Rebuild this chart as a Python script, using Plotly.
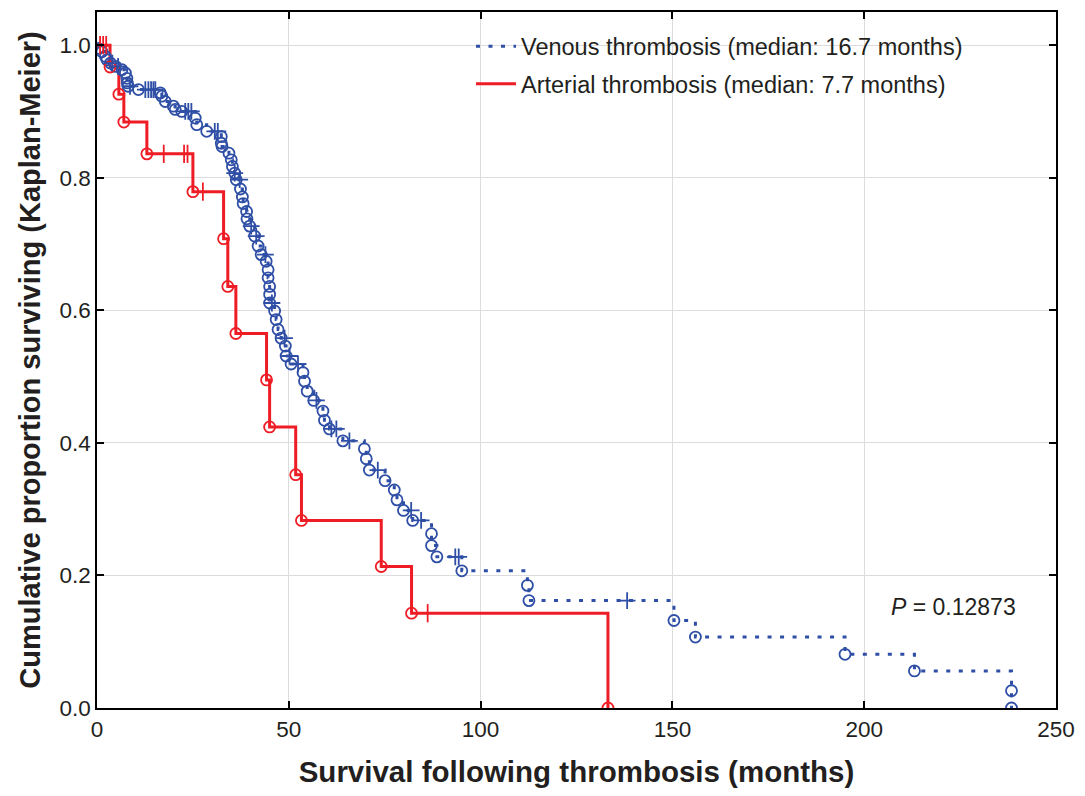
import plotly.graph_objects as go

# ---------------- data ----------------
venous_event_times = [0.3, 1.3, 2.2, 2.6, 3.5, 4.8, 6.5, 7.4, 7.8, 7.9,
                      8.1, 10.8, 16.5, 16.9, 17.8, 19.9, 20.4, 22.1, 25.6, 26.0,
                      28.6, 32.4, 32.4, 32.6, 34.4, 35.0, 35.3, 35.9, 36.3, 37.4,
                      37.9, 38.1, 39.0, 39.1, 39.8, 41.1, 42.0, 42.8, 44.1, 44.6,
                      44.6, 45.0, 45.0, 45.0, 46.3, 46.7, 47.2, 48.0, 49.1, 49.3,
                      50.6, 53.7, 54.1, 54.8, 56.5, 58.9, 59.3, 60.6, 64.1, 69.7,
                      70.2, 71.0, 75.1, 77.5, 78.2, 79.9, 82.3, 87.2, 87.2, 88.6,
                      95.1, 112.2, 112.6, 150.4, 156.0, 195.0, 213.1, 238.4, 238.4]
venous_event_surv = [0.995, 0.990, 0.983, 0.978, 0.973, 0.968, 0.963, 0.958, 0.950, 0.943,
                     0.938, 0.933, 0.928, 0.923, 0.915, 0.908, 0.903, 0.900, 0.890, 0.880,
                     0.870, 0.862, 0.852, 0.847, 0.837, 0.827, 0.817, 0.807, 0.797, 0.783,
                     0.771, 0.761, 0.749, 0.738, 0.727, 0.712, 0.697, 0.684, 0.674, 0.661,
                     0.649, 0.636, 0.624, 0.611, 0.599, 0.586, 0.571, 0.558, 0.546, 0.531,
                     0.519, 0.506, 0.493, 0.478, 0.464, 0.448, 0.434, 0.421, 0.403, 0.391,
                     0.376, 0.359, 0.343, 0.329, 0.314, 0.298, 0.283, 0.263, 0.245, 0.228,
                     0.207, 0.185, 0.162, 0.132, 0.107, 0.081, 0.056, 0.026, 0.0]
venous_censor_times = [4.0, 5.5, 8.6, 12.6, 13.4, 14.1, 14.7, 15.2, 23.0, 23.8,
                       24.6, 30.7, 31.5, 35.9, 37.2, 40.2, 41.5, 43.9, 45.6, 48.9,
                       50.2, 52.4, 57.2, 61.1, 62.4, 65.8, 73.2, 81.9, 84.5, 93.4,
                       94.3, 138.2]

arterial_event_times = [3.4, 5.7, 7.0, 13.0, 25.0, 33.0, 34.1, 36.2, 44.2, 45.0,
                        51.8, 53.3, 74.1, 82.0, 133.2]
arterial_event_surv = [0.967, 0.926, 0.884, 0.836, 0.779, 0.708, 0.636, 0.565, 0.495, 0.424,
                       0.352, 0.283, 0.2135, 0.143, 0.0]
arterial_censor_times = [0.8, 1.6, 2.4, 17.4, 22.7, 23.6, 27.6, 86.2]

venous_name = "Venous thrombosis (median: 16.7 months)"
arterial_name = "Arterial thrombosis (median: 7.7 months)"
p_text = "<i>P</i> = 0.12873"

x_ticks = [0, 50, 100, 150, 200, 250]
y_ticks = [0.0, 0.2, 0.4, 0.6, 0.8, 1.0]

BLUE = "#2F4FA6"
RED = "#EE1C25"
TXT = "#231F20"
FONT = "Liberation Sans, Arial"


def surv_at(times, surv, t):
    s = 1.0
    for ti, si in zip(times, surv):
        if ti <= t:
            s = si
    return s


fig = go.Figure()

# step lines
vx = [0] + venous_event_times
vy = [1.0] + venous_event_surv
fig.add_trace(go.Scatter(x=vx, y=vy, mode="lines", line_shape="hv",
                         line=dict(color=BLUE, width=3, dash="4px,8.5px"),
                         name=venous_name, legendgroup="v"))
ax = [0] + arterial_event_times
ay = [1.0] + arterial_event_surv
fig.add_trace(go.Scatter(x=ax, y=ay, mode="lines", line_shape="hv",
                         line=dict(color=RED, width=3), name=arterial_name,
                         legendgroup="a"))

# event markers (circles)
fig.add_trace(go.Scatter(x=venous_event_times, y=venous_event_surv, mode="markers",
                         marker=dict(symbol="circle-open", size=11, color=BLUE,
                                     line=dict(width=1.8, color=BLUE)),
                         showlegend=False, hoverinfo="skip"))
fig.add_trace(go.Scatter(x=arterial_event_times, y=arterial_event_surv, mode="markers",
                         marker=dict(symbol="circle-open", size=11, color=RED,
                                     line=dict(width=1.8, color=RED)),
                         showlegend=False, hoverinfo="skip"))

# censor markers
vcy = [surv_at(venous_event_times, venous_event_surv, t) for t in venous_censor_times]
fig.add_trace(go.Scatter(x=venous_censor_times, y=vcy, mode="markers",
                         marker=dict(symbol="cross-thin", size=12, color=BLUE,
                                     line=dict(width=1.8, color=BLUE)),
                         showlegend=False, hoverinfo="skip"))
acy = [surv_at(arterial_event_times, arterial_event_surv, t) for t in arterial_censor_times]
fig.add_trace(go.Scatter(x=arterial_censor_times, y=acy, mode="markers",
                         marker=dict(symbol="line-ns", size=13, color=RED,
                                     line=dict(width=1.8, color=RED)),
                         showlegend=False, hoverinfo="skip"))

fig.add_annotation(x=240, y=0.153, xref="x", yref="y", text=p_text, showarrow=False,
                   xanchor="right", yanchor="middle",
                   font=dict(family=FONT, size=23, color=TXT))

axis_common = dict(showline=True, linecolor="black", linewidth=1.5, mirror="ticks",
                   ticks="inside", ticklen=7, tickwidth=1.5, tickcolor="black",
                   showgrid=True, gridcolor="#DCDCDC", gridwidth=1.2, zeroline=False,
                   tickfont=dict(family=FONT, size=22.5, color=TXT))

fig.update_xaxes(range=[0, 250], tickvals=x_ticks, **axis_common,
                 title=dict(text="<b>Survival following thrombosis (months)</b>",
                            font=dict(family=FONT, size=29.5, color=TXT),
                            standoff=22))
fig.update_yaxes(range=[0, 1.05], tickvals=y_ticks, tickformat=".1f", **axis_common,
                 title=dict(text="<b>Cumulative proportion surviving (Kaplan-Meier)</b>",
                            font=dict(family=FONT, size=29, color=TXT),
                            standoff=10))

fig.update_layout(width=1069, height=780, plot_bgcolor="white", paper_bgcolor="white",
                  margin=dict(l=89, r=19, t=2, b=80),
                  legend=dict(x=0.39, y=0.982, xanchor="left", yanchor="top",
                              bgcolor="rgba(0,0,0,0)",
                              font=dict(family=FONT, size=23.5, color=TXT),
                              itemwidth=40, tracegroupgap=4),
                  showlegend=True)

fig.write_html("out.html")
